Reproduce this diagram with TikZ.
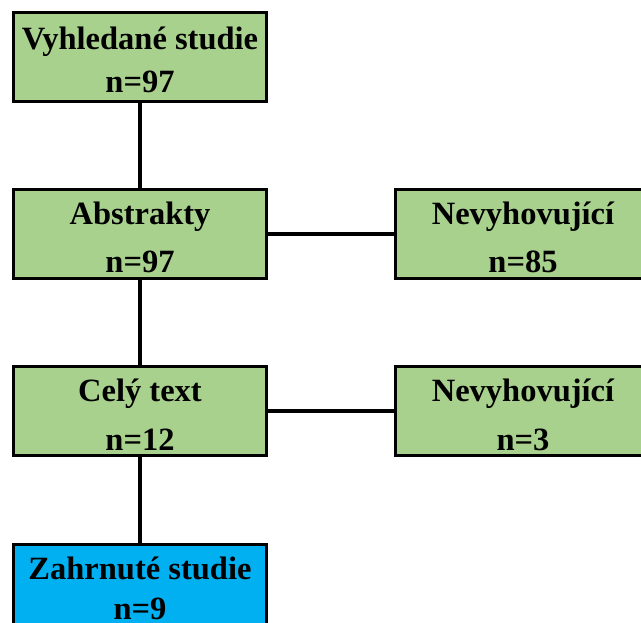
\documentclass[tikz,border=0pt]{standalone}
\usepackage{fontspec}
\setmainfont{Liberation Serif}
\definecolor{boxgreen}{HTML}{A9D18E}
\definecolor{boxblue}{HTML}{00B0F0}
\begin{document}
\begin{tikzpicture}[x=1pt,y=-1pt,
  box/.style={draw=black,line width=3pt,minimum width=253pt,minimum height=89pt,inner sep=0pt,outer sep=0pt,fill=boxgreen},
  bluebox/.style={box,fill=boxblue},
  txt/.style={anchor=base,inner sep=0pt,font=\bfseries\fontsize{32.5}{32.5}\selectfont},
  link/.style={line width=4pt}]
\useasboundingbox (0,0) rectangle (641,623);
\clip (0,0) rectangle (641,623);
% connectors first
\coordinate (c1) at (140,57);
\coordinate (c2) at (140,234);
\coordinate (c3) at (523,234);
\coordinate (c4) at (140,411);
\coordinate (c5) at (523,411);
\coordinate (c6) at (140,589);
\draw[link] (c1) -- (c2);
\draw[link] (c2) -- (c4);
\draw[link] (c4) -- (c6);
\draw[link] (c2) -- (c3);
\draw[link] (c4) -- (c5);
% boxes
\node[box] (b1) at (c1) {};
\node[box] (b2) at (c2) {};
\node[box,minimum width=256pt] (b3) at (c3) {};
\node[box] (b4) at (c4) {};
\node[box,minimum width=256pt] (b5) at (c5) {};
\node[bluebox] (b6) at (c6) {};
% texts
\node[txt] (t1a) at (140,50) {Vyhledané studie};
\node[txt] (t1b) at (140,93) {n=97};
\node[txt] (t2a) at (140,225) {Abstrakty};
\node[txt] (t2b) at (140,273) {n=97};
\node[txt] (t3a) at (523,225) {Nevyhovující};
\node[txt] (t3b) at (523,273) {n=85};
\node[txt] (t4a) at (140,402) {Celý text};
\node[txt] (t4b) at (140,450) {n=12};
\node[txt] (t5a) at (523,402) {Nevyhovující};
\node[txt] (t5b) at (523,450) {n=3};
\node[txt] (t6a) at (140,579) {Zahrnuté studie};
\node[txt] (t6b) at (140,619) {n=9};
\end{tikzpicture}
\end{document}
